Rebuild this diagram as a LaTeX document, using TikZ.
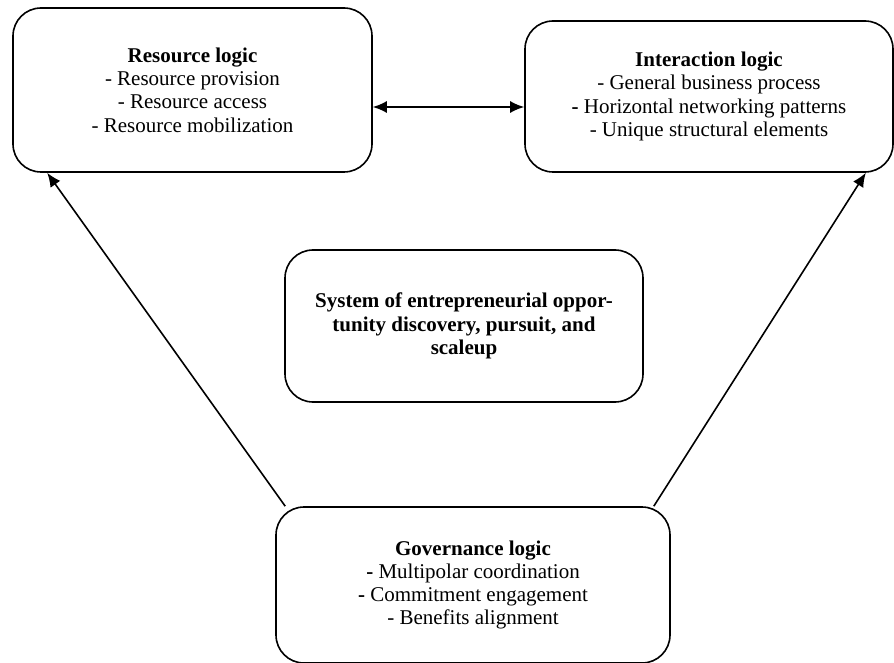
\documentclass[tikz,border=0pt]{standalone}
\usepackage{fontspec}
\setmainfont{Liberation Serif}
\usetikzlibrary{arrows.meta}
\begin{document}
\begin{tikzpicture}[x=1pt,y=-1pt,
  box/.style={draw, line width=1.6pt, rounded corners=28pt, align=center,
    inner sep=0pt, font=\fontsize{21}{23.3}\selectfont},
  conn/.style={line width=1.6pt, -{Latex[length=14pt,width=12pt]}},
  dconn/.style={line width=1.6pt, {Latex[length=14pt,width=12pt]}-{Latex[length=14pt,width=12pt]}}]
\useasboundingbox (0,0) rectangle (894,663);
\node[box, minimum width=359pt, minimum height=164pt] (res) at (192.5,90)
  {\textbf{Resource logic}\\- Resource provision\\- Resource access\\- Resource mobilization};
\node[box, minimum width=368pt, minimum height=151pt] (int) at (709,96.5)
  {\textbf{Interaction logic}\\- General business process\\\textbf{-} Horizontal networking patterns\\- Unique structural elements};
\node[box, minimum width=358pt, minimum height=152pt, font=\bfseries\fontsize{21}{23.3}\selectfont] (sys) at (464,326)
  {System of entrepreneurial oppor-\\tunity discovery, pursuit, and\\scaleup};
\node[box, minimum width=394pt, minimum height=156pt] (gov) at (473,585)
  {\textbf{Governance logic}\\\textbf{-} Multipolar coordination\\\textbf{-} Commitment engagement\\- Benefits alignment};
\draw[dconn] (res.east |- 0,107) -- (int.west |- 0,107);
\draw[conn] ([xshift=10pt]gov.north west) -- ([xshift=35pt]res.south west);
\draw[conn] ([xshift=-17pt]gov.north east) -- ([xshift=-28pt]int.south east);
\end{tikzpicture}
\end{document}
